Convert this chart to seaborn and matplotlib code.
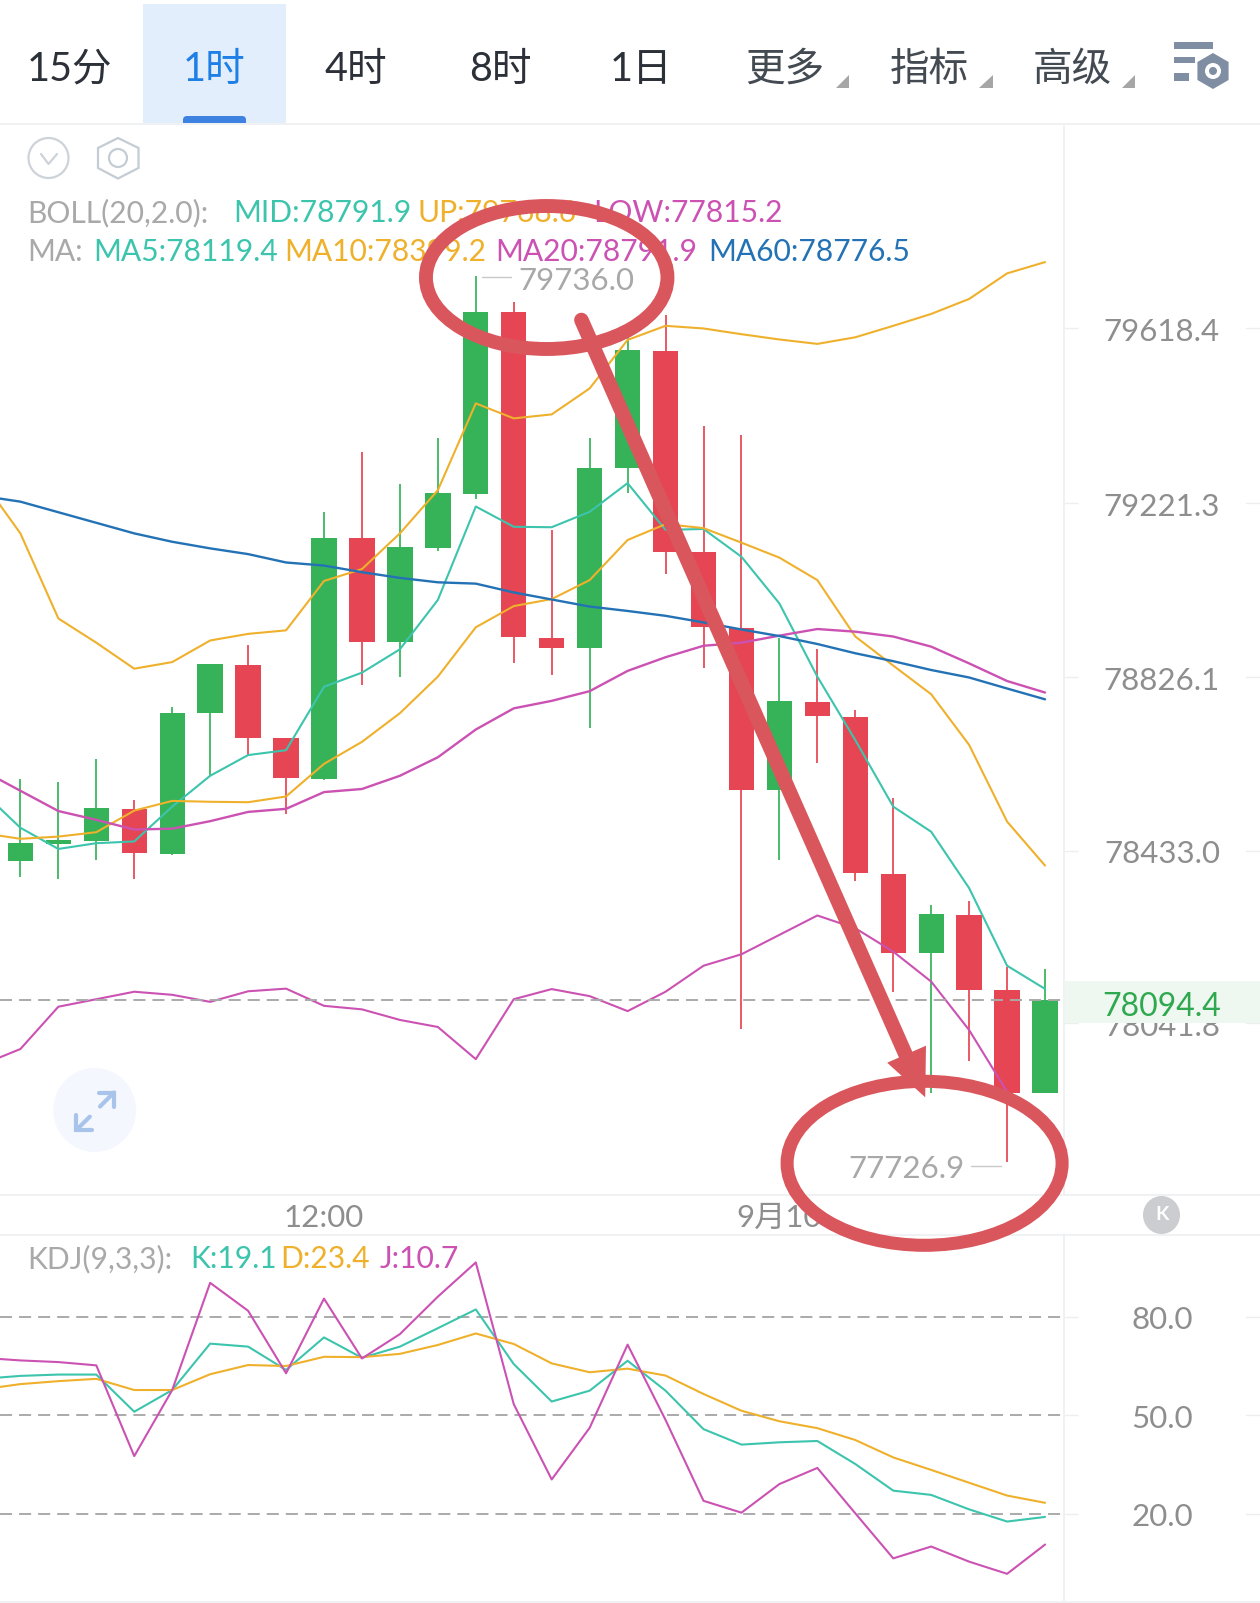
import matplotlib
matplotlib.use("Agg")
import matplotlib.pyplot as plt
import matplotlib.patches as patches
from matplotlib.transforms import ScaledTranslation
import numpy as np
import seaborn as sns

# candles, hourly, index 0 is the leftmost fully visible one
opens = [78410, 78448, 78456, 78528, 78426, 78745, 78854, 78688, 78596, 79142,
         78906, 79119, 79242, 79655, 78916, 78892, 79301, 79568, 79111, 78938,
         78570, 78771, 78737, 78380, 78200, 78287, 78117, 77883]
closes = [78450, 78457, 78530, 78427, 78746, 78856, 78689, 78597, 79143, 78907,
          79121, 79244, 79656, 78917, 78894, 79302, 79569, 79111, 78940, 78571,
          78773, 78739, 78382, 78202, 78289, 78117, 77884, 78094.4]
highs = [78595, 78590, 78642, 78548, 78760, 78856, 78900, 78688, 79201, 79338,
         79265, 79369, 79736, 79679, 79161, 79369, 79630, 79649, 79397, 79376,
         78915, 78890, 78752, 78552, 78310, 78319, 78168, 78165]
lows = [78374, 78369, 78413, 78369, 78423, 78603, 78650, 78516, 78594, 78809,
        78828, 79114, 79230, 78860, 78832, 78711, 79244, 79060, 78848, 78028,
        78412, 78633, 78365, 78112, 77883, 77956, 77726.9, 77883]

# overlay lines start one candle further left, off the edge of the chart
boll_up = [79273, 79153, 78960, 78905, 78846, 78861, 78910, 78925, 78933, 79045,
           79072, 79153, 79251, 79448, 79414, 79423, 79482, 79592, 79624, 79618,
           79605, 79593, 79583, 79598, 79624, 79651, 79685, 79743, 79768.6]
boll_low = [77948, 77983, 78079, 78096, 78113, 78106, 78090, 78114, 78120, 78081,
            78073, 78049, 78033, 77960, 78096, 78119, 78103, 78069, 78113, 78172,
            78198, 78242, 78286, 78257, 78204, 78136, 78026, 77886, 77815.2]
ma5 = [78567, 78485, 78437, 78450, 78454, 78533, 78603, 78650, 78661, 78805,
       78837, 78890, 79002, 79214, 79168, 79167, 79202, 79267, 79161, 79163,
       79100, 78994, 78828, 78684, 78533, 78476, 78348, 78172, 78119.4]
ma10 = [78473, 78460, 78465, 78475, 78524, 78546, 78544, 78543, 78556, 78630,
        78680, 78745, 78828, 78940, 78988, 79004, 79047, 79138, 79174, 79165,
        79132, 79098, 79047, 78919, 78853, 78788, 78673, 78499, 78399.2]
ma20 = [78615, 78569, 78523, 78503, 78481, 78483, 78500, 78521, 78528, 78566,
        78573, 78603, 78645, 78708, 78756, 78773, 78795, 78841, 78872, 78898,
        78905, 78921, 78936, 78930, 78919, 78896, 78858, 78818, 78791.9]
ma60 = [79238, 79225, 79201, 79177, 79153, 79134, 79119, 79106, 79087, 79080,
        79065, 79052, 79042, 79039, 79019, 79003, 78987, 78977, 78966, 78951,
        78935, 78920, 78902, 78881, 78863, 78843, 78826, 78801, 78776.5]

kdj_k = [61.1, 62.0, 62.4, 62.4, 51.1, 57.7, 71.8, 70.9, 63.8, 73.7, 67.5, 70.9,
         76.5, 82.2, 65.6, 54.2, 57.5, 66.6, 57.5, 45.8, 41.1, 41.8, 42.2, 35.2,
         27.1, 25.8, 21.4, 17.7, 19.1]
kdj_d = [57.9, 59.5, 60.4, 61.1, 57.7, 57.7, 62.5, 65.3, 65.0, 67.8, 67.7, 68.7,
         71.4, 74.9, 71.7, 65.8, 63.1, 64.2, 62.1, 56.5, 51.4, 48.2, 46.1, 42.5,
         37.2, 33.4, 29.5, 25.6, 23.4]
kdj_j = [67.5, 66.7, 66.2, 65.2, 37.6, 57.7, 90.3, 81.8, 62.8, 85.5, 67.3, 74.7,
         86.1, 96.5, 53.4, 30.5, 46.2, 71.5, 48.6, 24.0, 20.4, 29.1, 34.0, 20.2,
         6.5, 10.1, 5.5, 1.8, 10.7]

price_ticks = [79618.4, 79221.3, 78826.1, 78433.0, 78041.8]
kdj_ticks = [80.0, 50.0, 20.0]
last_price = 78094.4
tabs = ["15分", "1时", "4时", "8时", "1日", "更多", "指标", "高级"]

W, H = 1260, 1603
TEAL = "#3cc4ad"
YELLOW = "#efb02b"
PINK = "#cb52b2"
BLUE = "#2372b5"
GREEN = "#36b359"
RED = "#e64553"
MARK = "#d9565c"
BORDER = "#f0f1f3"
GREY = "#8e8e8e"
LEGEND_GREY = "#a9a9a9"


def addPanel(fig, top, bottom):
    return fig.add_axes([0, 1 - bottom / H, 1064 / W, (bottom - top) / H])


def styleAxis(fig, ax, ticks, fmt):
    ax.set_xlim(-20.4 / 37.95, (1064 - 20.4) / 37.95)
    ax.set_yticks(ticks)
    ax.set_yticklabels([fmt % t for t in ticks])
    ax.set_xticks([])
    ax.set_xlabel("")
    ax.set_ylabel("")
    ax.yaxis.tick_right()
    ax.tick_params(axis="y", length=10, width=1, color="#eeeeee", pad=60.5,
                   labelsize=22.5, labelcolor=GREY)
    shift = ScaledTranslation(0, -3.5 / 100, fig.dpi_scale_trans)
    for label in ax.get_yticklabels():
        label.set_ha("center")
        label.set_va("center")
        label.set_transform(label.get_transform() + shift)
    for t in ticks:
        ax.plot([1246 / 1064, 1260 / 1064], [t, t], color="#eeeeee", lw=1,
                transform=ax.get_yaxis_transform(), clip_on=False)
    sns.despine(ax=ax, left=True, bottom=True, top=True, right=True)
    ax.patch.set_alpha(0)


def drawLine(ax, x, y, color, lw=1.5):
    sns.lineplot(x=x, y=y, color=color, linewidth=lw, ax=ax, legend=False,
                 errorbar=None, zorder=4)


def main():
    sns.set_theme(style="white")
    plt.rcParams["font.family"] = ["Lato", "Noto Sans CJK SC", "DejaVu Sans"]

    fig = plt.figure(figsize=(W / 100, H / 100), dpi=100, facecolor="white")

    # price panel
    ax = addPanel(fig, 124, 1194)
    idx = np.arange(len(opens))
    line_x = np.arange(-1, len(opens))
    o, c = np.array(opens), np.array(closes)
    colors = [GREEN if cl >= op else RED for op, cl in zip(o, c)]
    ax.vlines(idx, lows, highs, colors=colors, linewidth=1.25, zorder=2)
    ax.bar(idx, np.abs(c - o), bottom=np.minimum(o, c), width=0.667,
           color=colors, linewidth=0, zorder=3)
    ax.axhline(last_price, color="#aaaaaa", lw=1.4, dashes=(6.2, 3.6), zorder=5)
    drawLine(ax, line_x, boll_up, YELLOW)
    drawLine(ax, line_x, boll_low, PINK)
    drawLine(ax, line_x, ma5, TEAL)
    drawLine(ax, line_x, ma10, YELLOW)
    drawLine(ax, line_x, ma20, PINK, 1.7)
    drawLine(ax, line_x, ma60, BLUE, 1.7)
    ax.set_ylim(78433 + (850.7 - 1194) * 2.2691, 78433 + (850.7 - 124) * 2.2691)
    styleAxis(fig, ax, price_ticks, "%.1f")

    # kdj panel
    ax2 = addPanel(fig, 1234, 1601)
    for t in kdj_ticks:
        ax2.axhline(t, color="#aaaaaa", lw=1.4, dashes=(6.2, 3.6), zorder=1)
    drawLine(ax2, line_x, kdj_k, TEAL)
    drawLine(ax2, line_x, kdj_d, YELLOW)
    drawLine(ax2, line_x, kdj_j, PINK)
    ax2.set_ylim(80 - (1601 - 1316.7) / 3.288, 80 + (1316.7 - 1234) / 3.288)
    styleAxis(fig, ax2, kdj_ticks, "%.1f")

    # everything else is page furniture, laid out in pixels
    ov = fig.add_axes([0, 0, 1, 1], zorder=5)
    ov.set_xlim(0, W)
    ov.set_ylim(H, 0)
    ov.axis("off")
    ov.patch.set_alpha(0)

    for y in [123.5, 1194.5, 1234.5, 1601.5]:
        ov.plot([0, W], [y, y], color=BORDER, lw=1.4)
    ov.plot([1064, 1064], [124, 1194], color=BORDER, lw=1.4)
    ov.plot([1064, 1064], [1234, 1601], color=BORDER, lw=1.4)

    # top tabs
    ov.add_patch(patches.Rectangle((143, 4), 143, 119, color="#e3eefc", lw=0))
    ov.add_patch(patches.FancyBboxPatch((183, 116), 63, 14, color="#3d82e0", lw=0,
                                        boxstyle="round,pad=0,rounding_size=4"))
    ov.add_patch(patches.Rectangle((143, 123), 143, 8, color="white", lw=0))
    tab_x = [70, 214, 356, 500, 641, 785, 929, 1072]
    tab_colors = ["#2c3038", "#1e7fe6", "#2c3038", "#2c3038", "#2c3038",
                  "#444a52", "#444a52", "#444a52"]
    for name, x, col in zip(tabs, tab_x, tab_colors):
        ov.text(x, 69, name, ha="center", va="center", fontsize=28.5, color=col)
    for x in [849, 992.5, 1135]:
        ov.add_patch(patches.Polygon([(x - 13.5, 88), (x, 88), (x, 75)],
                                     color="#a6a6a6", lw=0))

    # settings icon
    for x0, x1, y0, y1 in [(1174, 1213, 42, 49), (1174, 1195, 57, 63), (1174, 1189, 73, 81)]:
        ov.add_patch(patches.Rectangle((x0, y0), x1 - x0, y1 - y0, color="#7f8ea3", lw=0))
    ov.add_patch(patches.RegularPolygon((1213, 71), 6, radius=18, color="#7f8ea3", lw=0))
    ov.add_patch(patches.Circle((1213, 71), 8, color="white", lw=0))
    ov.add_patch(patches.Circle((1213, 71), 4, color="#7f8ea3", lw=0))

    # collapse and settings buttons
    ov.add_patch(patches.Ellipse((48.5, 158), 40, 40, fill=False, ec="#cdd3d9", lw=1.6))
    ov.plot([41, 48.5, 57], [154, 164, 154], color="#cdd3d9", lw=1.6)
    ov.add_patch(patches.Polygon([(118, 138), (138.5, 148), (138.5, 168), (118, 178.5),
                                  (98, 168), (98, 148)], fill=False, ec="#c4ccd4", lw=1.6))
    ov.add_patch(patches.Ellipse((118, 158), 18, 18, fill=False, ec="#c4ccd4", lw=1.6))

    # indicator read-outs
    rows = [
        (213, [(27, "BOLL(20,2.0):", LEGEND_GREY), (233, "MID:78791.9", TEAL),
               (418, "UP:79768.6", YELLOW), (593, "LOW:77815.2", PINK)]),
        (252, [(27, "MA:", LEGEND_GREY), (93.5, "MA5:78119.4", TEAL),
               (284, "MA10:78399.2", YELLOW), (495.5, "MA20:78791.9", PINK),
               (708, "MA60:78776.5", BLUE)]),
        (1259, [(27, "KDJ(9,3,3):", LEGEND_GREY), (190, "K:19.1", TEAL),
                (280, "D:23.4", YELLOW), (380, "J:10.7", PINK)]),
    ]
    for y, items in rows:
        for x, text, col in items:
            ov.text(x, y, text, ha="left", va="center", fontsize=21.6, color=col)

    # extreme price labels
    ov.plot([482, 511], [277, 277], color="#c8c8c8", lw=1)
    ov.text(518, 281, "79736.0", ha="left", va="center", fontsize=22.5, color="#a8a8a8")
    ov.plot([971, 1001], [1165.7, 1165.7], color="#c8c8c8", lw=1)
    ov.text(965, 1169, "77726.9", ha="right", va="center", fontsize=22.5, color="#a8a8a8")

    # current price tag
    ov.add_patch(patches.Rectangle((1064, 981), 196, 42, color="#eef8f1", lw=0))
    ov.text(1162, 1006.5, "78094.4", ha="center", va="center", fontsize=23, color="#2fa84f")

    # time axis
    ov.text(323.6, 1218, "12:00", ha="center", va="center", fontsize=22.5, color=GREY)
    ov.text(779, 1218, "9月10", ha="center", va="center", fontsize=22.5, color=GREY)
    ov.add_patch(patches.Ellipse((1161.5, 1215), 37, 38, color="#cccdd0", lw=0))
    ov.text(1162, 1215, "K", ha="center", va="center", fontsize=14, color="white",
            fontweight="bold")

    # expand button
    ov.add_patch(patches.Ellipse((94.7, 1110), 83, 84, color="#f4f8fe", lw=0))
    for pts in [[(99, 1092.5), (114, 1092.5), (114, 1107)],
                [(100, 1106.5), (114, 1092.5)],
                [(91.8, 1130), (76.3, 1130), (76.3, 1115)],
                [(76.3, 1130), (89.8, 1116.7)]]:
        xs, ys = zip(*pts)
        ov.plot(xs, ys, color="#a9c4ea", lw=3, solid_capstyle="round", solid_joinstyle="miter")

    # hand drawn markup on top
    ov.add_patch(patches.Ellipse((546.7, 277.5), 241.5, 143, fill=False, ec=MARK, lw=10,
                                 zorder=10))
    ov.add_patch(patches.Ellipse((924.6, 1163.3), 275, 164, fill=False, ec=MARK, lw=9.4,
                                 zorder=10))
    ov.plot([581.4, 908], [320, 1060], color=MARK, lw=10.5, solid_capstyle="round", zorder=10)
    ov.add_patch(patches.Polygon([(926, 1045.7), (887.2, 1062.7), (925.2, 1097.3)],
                                 color=MARK, lw=0, zorder=10))

    fig.savefig("out.png", dpi=100)
    plt.close(fig)


if __name__ == '__main__':
    main()
